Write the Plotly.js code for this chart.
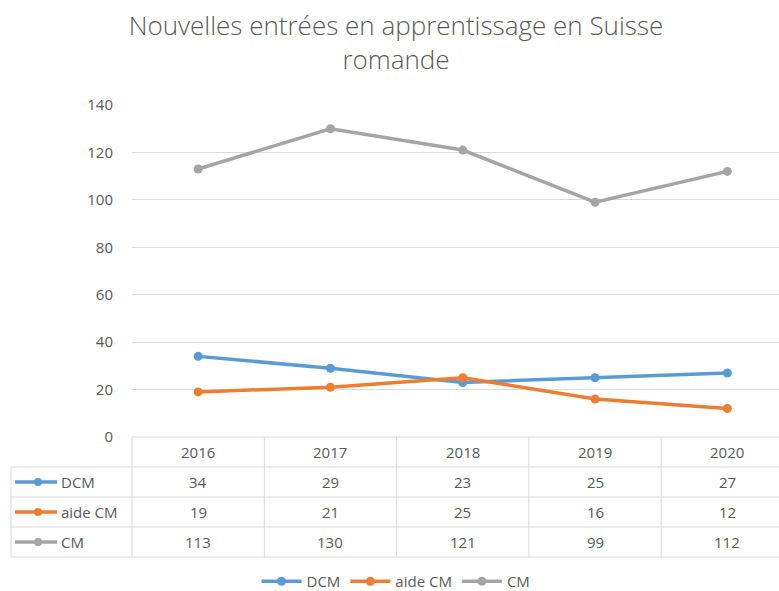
<!DOCTYPE html>
<html>
<head>
<meta charset="utf-8">
<script src="https://cdn.plot.ly/plotly-3.0.1.min.js"></script>
<style>html,body{margin:0;padding:0;background:#fff;}#chart{width:779px;height:591px;}</style>
</head>
<body>
<div id="chart"></div>
<script>
// ---- data ----
const years = ["2016", "2017", "2018", "2019", "2020"];
const seriesNames = ["DCM", "aide CM", "CM"];
const dcm = [34, 29, 23, 25, 27];
const aideCM = [19, 21, 25, 16, 12];
const cm = [113, 130, 121, 99, 112];
const yTicks = [0, 20, 40, 60, 80, 100, 120, 140];

// ---- style / layout constants ----
const W = 779, H = 591;
const ML = 132, MR = 0, MT = 105, MB = 154;
const plotW = W - ML - MR, plotH = H - MT - MB;
const colors = ["#5B9BD5", "#ED7D31", "#A5A5A5"];
const txt = "#595959", gridC = "#D9D9D9";
const FONT = "'Open Sans', Lato, sans-serif";
const FS = 15;
const allSeries = [dcm, aideCM, cm];

const xIdx = years.map((_, i) => i);
const traces = allSeries.map((vals, k) => ({
  type: "scatter", mode: "lines+markers", name: seriesNames[k],
  x: xIdx, y: vals,
  line: {color: colors[k], width: 3.5},
  marker: {color: colors[k], size: 9},
  cliponaxis: false
}));

// pixel -> paper helpers
const py = p => (H - MB - p) / plotH;
const px = p => (p - ML) / plotW;

const rowLines = [437, 467, 497, 527, 557];
const rowCenters = [452, 482, 512, 542];
const leftEdge = 11;
const shapes = [];
const lineStyle = {color: gridC, width: 1};
// horizontal lines
shapes.push({type: "line", xref: "paper", yref: "paper", x0: 0, x1: 1, y0: py(rowLines[0]), y1: py(rowLines[0]), line: lineStyle});
for (let r = 1; r < rowLines.length; r++) {
  shapes.push({type: "line", xref: "paper", yref: "paper", x0: px(leftEdge), x1: 1, y0: py(rowLines[r]), y1: py(rowLines[r]), line: lineStyle});
}
// vertical lines
shapes.push({type: "line", xref: "paper", yref: "paper", x0: px(leftEdge), x1: px(leftEdge), y0: py(rowLines[1]), y1: py(rowLines[4]), line: lineStyle});
shapes.push({type: "line", xref: "paper", yref: "paper", x0: 0, x1: 0, y0: py(rowLines[0]), y1: py(rowLines[4]), line: lineStyle});
for (let i = 0; i < years.length - 1; i++) {
  shapes.push({type: "line", xref: "x", yref: "paper", x0: i + 0.5, x1: i + 0.5, y0: py(rowLines[0]), y1: py(rowLines[4]), line: lineStyle});
}
// legend keys in table
const annotations = [];
seriesNames.forEach((n, k) => {
  const yc = py(rowCenters[k + 1]);
  shapes.push({type: "line", xref: "paper", yref: "paper", x0: px(15), x1: px(57), y0: yc, y1: yc, line: {color: colors[k], width: 3.5}});
  shapes.push({type: "circle", xref: "paper", yref: "paper", x0: px(34), x1: px(42), y0: yc - 4 / plotH, y1: yc + 4 / plotH, fillcolor: colors[k], line: {width: 0}});
  annotations.push({xref: "paper", yref: "paper", x: px(59), y: yc, text: n, showarrow: false, xanchor: "left", yanchor: "middle", font: {family: FONT, size: FS, color: txt}});
});
// header years
years.forEach((yr, i) => {
  annotations.push({xref: "x", yref: "paper", x: i, y: py(rowCenters[0]), text: yr, showarrow: false, xanchor: "center", yanchor: "middle", font: {family: FONT, size: FS, color: txt}});
});
// values
allSeries.forEach((vals, k) => {
  vals.forEach((v, i) => {
    annotations.push({xref: "x", yref: "paper", x: i, y: py(rowCenters[k + 1]), text: String(v), showarrow: false, xanchor: "center", yanchor: "middle", font: {family: FONT, size: FS, color: txt}});
  });
});

const layout = {
  width: W, height: H,
  margin: {l: ML, r: MR, t: MT, b: MB, pad: 0, autoexpand: false},
  paper_bgcolor: "#fff", plot_bgcolor: "#fff",
  font: {family: FONT, color: txt, size: FS},
  title: {
    text: "Nouvelles entrées en apprentissage en Suisse<br>romande",
    font: {family: FONT, size: 26, color: txt, weight: 300},
    x: px(396), xref: "paper", xanchor: "center",
    y: 1 - 35 / H, yref: "container", yanchor: "middle"
  },
  xaxis: {
    range: [-0.5, -0.5 + plotW / 132.3],
    showgrid: false, zeroline: false, showticklabels: false, showline: false, ticks: "",
    fixedrange: true
  },
  yaxis: {
    range: [0, 140], tickvals: yTicks, ticktext: yTicks.map(String),
    showgrid: true, gridcolor: gridC, gridwidth: 1, zeroline: false, showline: false,
    ticks: "", ticklabelstandoff: 18, tickfont: {family: FONT, size: FS, color: txt},
    fixedrange: true
  },
  showlegend: true,
  legend: {
    orientation: "h", x: px(396), xanchor: "center", y: py(598), yanchor: "bottom",
    font: {family: FONT, size: FS, color: txt}, itemwidth: 40, bgcolor: "rgba(0,0,0,0)"
  },
  shapes: shapes,
  annotations: annotations
};

Plotly.newPlot("chart", traces, layout, {displayModeBar: false, staticPlot: true});
</script>
</body>
</html>
